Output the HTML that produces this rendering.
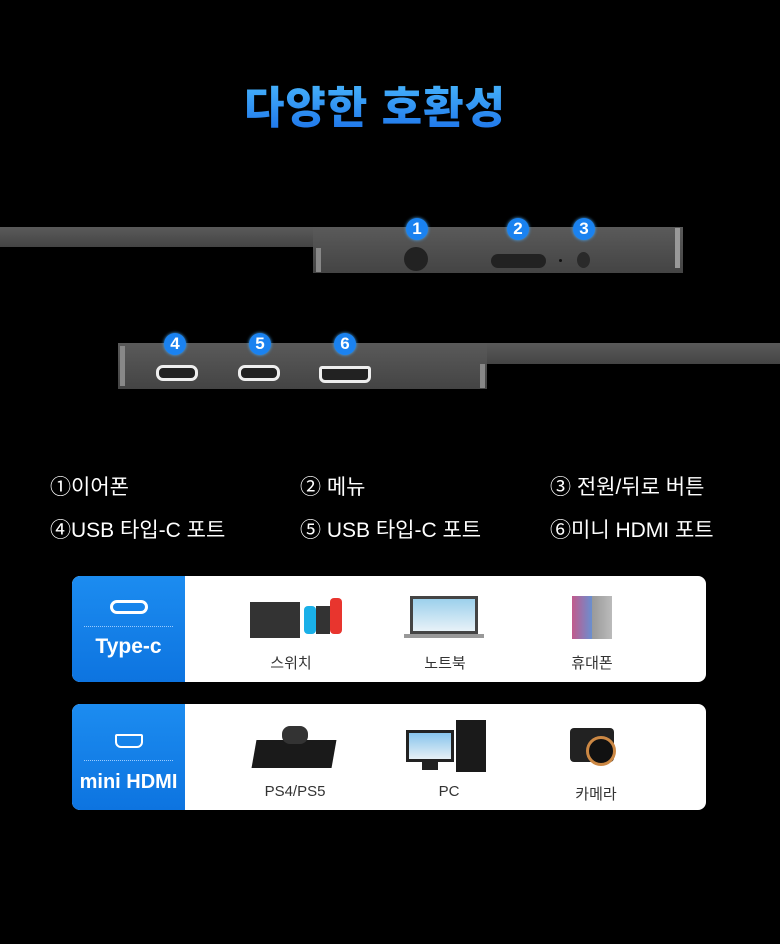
<!DOCTYPE html>
<html><head><meta charset="utf-8"><style>
*{margin:0;padding:0;box-sizing:border-box}
body{width:780px;height:944px;background:#000;position:relative;overflow:hidden;font-family:"Liberation Sans","Noto Sans CJK KR",sans-serif}
.abs{position:absolute}
.title{left:0;width:750px;top:72px;text-align:center;font-size:44px;font-weight:900;color:#1e8ff5;background:linear-gradient(#4fc0ff,#1a6fe8);-webkit-background-clip:text;background-clip:text;-webkit-text-fill-color:transparent;letter-spacing:1px}
.bar{background:linear-gradient(#5a5a5a,#444);}
.num{width:22px;height:22px;border-radius:50%;background:#1a82f0;color:#fff;font-weight:bold;font-size:17px;text-align:center;line-height:22px;box-shadow:0 0 3px #4af}
.lbl{color:#fff;font-size:21px}
.card{left:72px;width:634px;height:106px;background:#fff;border-radius:8px;overflow:hidden}
.blue{position:absolute;left:0;top:0;width:113px;height:106px;background:linear-gradient(#1c8cf0,#0d74e0);color:#fff;text-align:center}
.it{position:absolute;font-size:15px;color:#333;text-align:center;width:100px}
.port{border:3px solid #eee;border-radius:7px;background:#222}
</style></head><body>
<div class="abs title">다양한 호환성</div>

<div class="abs bar" style="left:0;top:227px;width:683px;height:20px"></div>
<div class="abs bar" style="left:313px;top:227px;width:370px;height:46px"></div>
<div class="abs" style="left:316px;top:248px;width:5px;height:24px;background:#888"></div>
<div class="abs" style="left:675px;top:228px;width:5px;height:40px;background:#999"></div>
<div class="abs" style="left:404px;top:247px;width:24px;height:24px;border-radius:50%;background:#222"></div>
<div class="abs" style="left:491px;top:254px;width:55px;height:14px;border-radius:7px;background:#222"></div>
<div class="abs" style="left:559px;top:259px;width:3px;height:3px;border-radius:50%;background:#111"></div>
<div class="abs" style="left:577px;top:252px;width:13px;height:16px;border-radius:50%;background:#2a2a2a"></div>
<div class="abs num" style="left:406px;top:218px">1</div>
<div class="abs num" style="left:507px;top:218px">2</div>
<div class="abs num" style="left:573px;top:218px">3</div>

<div class="abs bar" style="left:118px;top:343px;width:662px;height:21px"></div>
<div class="abs bar" style="left:118px;top:343px;width:369px;height:46px"></div>
<div class="abs" style="left:120px;top:346px;width:5px;height:40px;background:#888"></div>
<div class="abs" style="left:480px;top:364px;width:5px;height:24px;background:#888"></div>
<div class="abs port" style="left:156px;top:365px;width:42px;height:16px"></div>
<div class="abs port" style="left:238px;top:365px;width:42px;height:16px"></div>
<div class="abs port" style="left:319px;top:366px;width:52px;height:17px;border-radius:3px 3px 6px 6px"></div>
<div class="abs num" style="left:164px;top:333px">4</div>
<div class="abs num" style="left:249px;top:333px">5</div>
<div class="abs num" style="left:334px;top:333px">6</div>

<div class="abs lbl" style="left:50px;top:471px">①이어폰</div>
<div class="abs lbl" style="left:300px;top:471px">② 메뉴</div>
<div class="abs lbl" style="left:550px;top:471px">③ 전원/뒤로 버튼</div>
<div class="abs lbl" style="left:50px;top:514px">④USB 타입-C 포트</div>
<div class="abs lbl" style="left:300px;top:514px">⑤ USB 타입-C 포트</div>
<div class="abs lbl" style="left:550px;top:514px">⑥미니 HDMI 포트</div>

<div class="abs card" style="top:576px">
 <div class="blue">
  <div style="margin:24px auto 0;width:38px;height:14px;border:3px solid #fff;border-radius:8px"></div>
  <div style="margin:12px 12px 0;border-top:1px dotted #9cf"></div>
  <div style="font-size:21px;font-weight:bold;margin-top:8px">Type-c</div>
 </div>
 <div class="abs" style="left:178px;top:26px;width:50px;height:36px;background:#333"></div>
 <div class="abs" style="left:232px;top:30px;width:12px;height:28px;background:#1ab0e8;border-radius:4px"></div>
 <div class="abs" style="left:258px;top:22px;width:12px;height:36px;background:#e8352e;border-radius:4px"></div>
 <div class="abs" style="left:244px;top:30px;width:14px;height:28px;background:#333"></div>
 <div class="abs" style="left:338px;top:20px;width:68px;height:38px;border:3px solid #444;background:linear-gradient(#9cd0ec,#e8f2f8)"></div>
 <div class="abs" style="left:332px;top:58px;width:80px;height:4px;background:#999"></div>
 <div class="abs" style="left:500px;top:20px;width:40px;height:43px;background:linear-gradient(90deg,#c25a8c,#6a8fd0 50%,#999 50%,#bbb)"></div>
 <div class="it" style="left:169px;top:76px">스위치</div>
 <div class="it" style="left:323px;top:76px">노트북</div>
 <div class="it" style="left:470px;top:76px">휴대폰</div>
</div>

<div class="abs card" style="top:704px">
 <div class="blue">
  <div style="margin:30px auto 0;width:28px;height:14px;border:2px solid #fff;border-radius:2px 2px 6px 6px"></div>
  <div style="margin:12px 12px 0;border-top:1px dotted #9cf"></div>
  <div style="font-size:20px;font-weight:bold;margin-top:10px">mini HDMI</div>
 </div>
 <div class="abs" style="left:182px;top:36px;width:80px;height:28px;background:#1a1a1a;transform:skewX(-10deg)"></div>
 <div class="abs" style="left:210px;top:22px;width:26px;height:18px;border-radius:8px;background:#333"></div>
 <div class="abs" style="left:334px;top:26px;width:48px;height:32px;border:3px solid #222;background:linear-gradient(#88c4ec,#e6f0f6)"></div>
 <div class="abs" style="left:350px;top:58px;width:16px;height:8px;background:#222"></div>
 <div class="abs" style="left:384px;top:16px;width:30px;height:52px;background:#1a1a1a"></div>
 <div class="abs" style="left:498px;top:24px;width:44px;height:34px;background:#222;border-radius:4px"></div>
 <div class="abs" style="left:514px;top:32px;width:30px;height:30px;border-radius:50%;background:#111;border:3px solid #c84"></div>
 <div class="it" style="left:173px;top:79px">PS4/PS5</div>
 <div class="it" style="left:327px;top:79px">PC</div>
 <div class="it" style="left:474px;top:79px">카메라</div>
</div>
</body></html>
